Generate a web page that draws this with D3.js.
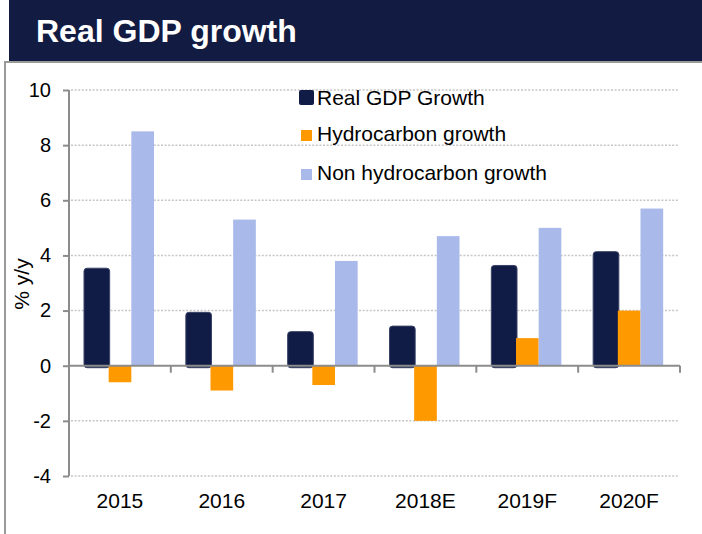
<!DOCTYPE html>
<html>
<head>
<meta charset="utf-8">
<script src="https://cdn.jsdelivr.net/npm/d3@7"></script>
<style>
  body { margin: 0; background: #fff; }
  svg { display: block; font-family: "Liberation Sans", Arial, sans-serif; }
</style>
</head>
<body>
<svg width="702" height="534"></svg>
<script>
const years = ["2015", "2016", "2017", "2018E", "2019F", "2020F"];
const realGdp = [3.5, 1.9, 1.2, 1.4, 3.6, 4.1];
const hydrocarbon = [-0.6, -0.9, -0.7, -2.0, 1.0, 2.0];
const nonHydrocarbon = [8.5, 5.3, 3.8, 4.7, 5.0, 5.7];
const seriesNames = ["Real GDP Growth", "Hydrocarbon growth", "Non hydrocarbon growth"];
const yTicks = [-4, -2, 0, 2, 4, 6, 8, 10];

const colors = ["#101c45", "#ff9900", "#a9baea"];
const series = [realGdp, hydrocarbon, nonHydrocarbon];

const svg = d3.select("svg");
const width = +svg.attr("width");

// title bar + frame
svg.append("rect")
	.attr("x", 9).attr("y", 0)
	.attr("width", width - 9).attr("height", 61)
	.attr("fill", "#121b41");

svg.append("text")
	.attr("x", 36).attr("y", 42)
	.attr("fill", "#fff")
	.attr("font-size", 32)
	.attr("font-weight", "bold")
	.text("Real GDP growth");

svg.append("path")
	.attr("d", `M5,534 V62 H${width}`)
	.attr("fill", "none")
	.attr("stroke", "#9a9a9a")
	.attr("stroke-width", 2);

const x0 = d3.scaleBand().domain(years).range([69, 680]);
const x1 = d3.scaleBand().domain(d3.range(3)).range([17, 85]);
const y = d3.scaleLinear().domain([-4, 10]).range([476, 90]);

// grid
svg.append("g")
	.selectAll("line")
	.data(yTicks.filter(d => d !== 0))
	.join("line")
		.attr("x1", 71).attr("x2", 679)
		.attr("y1", d => y(d)).attr("y2", d => y(d))
		.attr("stroke", "#c6c6c6")
		.attr("stroke-width", 1.5)
		.attr("stroke-dasharray", "2,1.6");

// bars
const groups = svg.append("g")
	.selectAll("g")
	.data(years)
	.join("g")
		.attr("transform", d => `translate(${x0(d)},0)`);

series.forEach((values, s) => {
	groups.append("rect")
		.each(function(d, i) {
			const v = values[i];
			const top = y(Math.max(0, v));
			const bottom = y(Math.min(0, v));
			const r = d3.select(this)
				.attr("fill", colors[s]);
			if (s === 0) {
				r.attr("x", x1(s) - 2)
					.attr("y", top - 1)
					.attr("width", x1.bandwidth() + 3)
					.attr("height", bottom - top + 3)
					.attr("rx", 3)
					.attr("stroke", "#3a4368")
					.attr("stroke-width", 1);
			} else {
				r.attr("x", x1(s))
					.attr("y", top)
					.attr("width", x1.bandwidth())
					.attr("height", bottom - top);
			}
		});
});

// y axis
const yAxis = svg.append("g")
	.attr("transform", "translate(69,0)")
	.call(d3.axisLeft(y).tickValues(yTicks).tickSize(6).tickPadding(12).tickFormat(d => String(d)));
yAxis.select(".domain").attr("stroke", "#8c8c8c").attr("stroke-width", 2)
	.attr("d", `M0,${y(10)}V${y(-4)}`);
yAxis.selectAll(".tick line").attr("stroke", "#8c8c8c").attr("stroke-width", 2);
yAxis.selectAll(".tick text").attr("font-size", 20).attr("fill", "#000")
	.attr("font-family", "Liberation Sans, Arial, sans-serif");

// x axis line at zero with boundary ticks
const xAxis = svg.append("g")
	.attr("transform", `translate(0,${y(0)})`)
	.call(d3.axisBottom(x0).tickSize(0).tickFormat(""));
xAxis.select(".domain").attr("stroke", "#8c8c8c").attr("stroke-width", 2)
	.attr("d", "M69,0H680");
xAxis.selectAll(".tick").remove();
xAxis.selectAll(".bound")
	.data(years.slice(1).map(d => x0(d)).concat([x0.range()[1]]))
	.join("line")
		.attr("x1", d => d).attr("x2", d => d)
		.attr("y1", 0).attr("y2", 7)
		.attr("stroke", "#8c8c8c")
		.attr("stroke-width", 2);

// category labels
const xLabels = svg.append("g")
	.attr("transform", `translate(0,${y(-4)})`)
	.call(d3.axisBottom(x0).tickSize(0).tickPadding(17));
xLabels.select(".domain").remove();
xLabels.selectAll(".tick text").attr("font-size", 21).attr("fill", "#000")
	.attr("font-family", "Liberation Sans, Arial, sans-serif");

// y label
svg.append("text")
	.attr("transform", "translate(29,284) rotate(-90)")
	.attr("text-anchor", "middle")
	.attr("font-size", 21)
	.text("% y/y");

// legend
const legendRows = [105, 141, 180];
const legend = svg.append("g");
seriesNames.forEach((name, i) => {
	const size = i === 0 ? 15 : 11;
	legend.append("rect")
		.attr("x", i === 0 ? 299 : 301)
		.attr("y", legendRows[i] - (i === 0 ? 15 : 11))
		.attr("width", size).attr("height", size)
		.attr("rx", i === 0 ? 2 : 0)
		.attr("fill", colors[i]);
	legend.append("text")
		.attr("x", 317)
		.attr("y", legendRows[i])
		.attr("font-size", 21)
		.text(name);
});
</script>
</body>
</html>
